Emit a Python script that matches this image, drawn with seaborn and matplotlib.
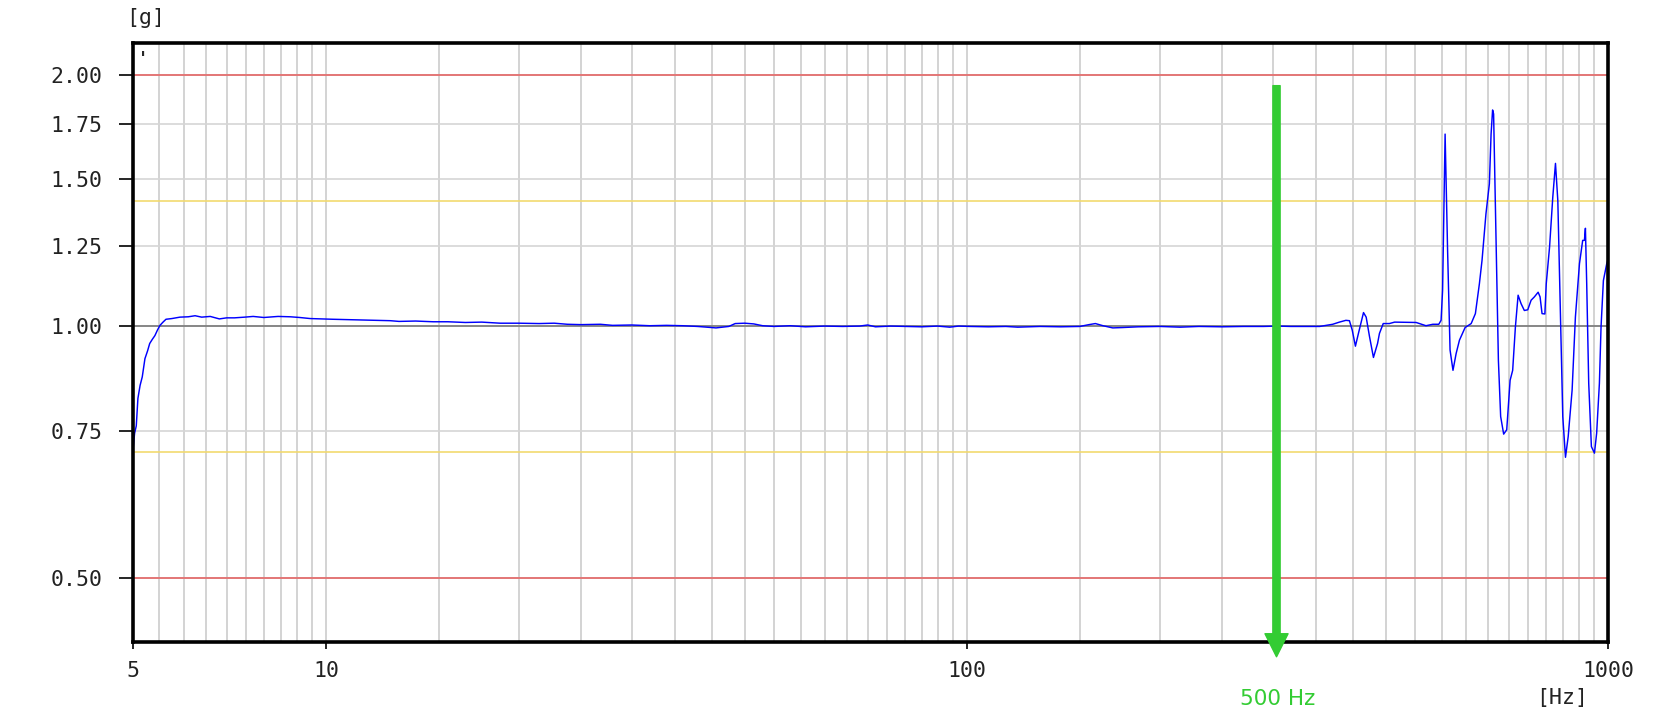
import numpy as np
import pandas as pd
import matplotlib
matplotlib.use("Agg")
import matplotlib.pyplot as plt
import matplotlib.ticker as mticker
import seaborn as sns

sns.set_style("white")
plt.rcParams["font.family"] = "DejaVu Sans Mono"

# frequency response (Hz, g)
freq_hz = [5.00, 5.03, 5.06, 5.09, 5.13, 5.17, 5.22, 5.27, 5.31, 5.36, 5.41, 5.46,
           5.51, 5.57, 5.63, 5.75, 5.92, 6.10, 6.25, 6.40, 6.60, 6.82, 7.00, 7.20,
           7.47, 7.70, 8.00, 8.42, 8.80, 9.10, 9.45, 9.80, 10.25, 10.8, 11.3, 12.0,
           12.6, 13.0, 13.8, 14.7, 15.5, 16.5, 17.5, 18.7, 20.0, 21.5, 22.7, 23.8,
           25.0, 26.8, 28.0, 30.0, 32.0, 34.0, 36.0, 38.0, 40.6, 42.5, 43.5, 45.0,
           46.5, 48.0, 50.0, 53.0, 56.0, 60.0, 64.0, 68.0, 70.0, 72.0, 76.0, 80.0,
           85.0, 90.0, 94.0, 97.0, 101, 108, 115, 120, 130, 140, 150, 155,
           158.6, 163, 168.8, 175, 185, 200, 215, 230, 250, 270, 290, 305,
           320, 330, 355, 372, 381, 390, 395, 399, 403.6, 408, 415.5, 419.5,
           424.6, 430.6, 437, 440, 446, 456, 464.6, 502, 520, 533, 544.5, 549,
           552, 557, 562, 567, 573, 579.5, 586.5, 598.5, 611.7, 621, 630, 636,
           645, 653, 657, 660.6, 663, 668.7, 674.5, 680, 687.4, 695, 703.5, 710,
           717, 724, 731.7, 740.4, 749.5, 758.6, 767.6, 778, 783.4, 789, 797, 801,
           810.6, 820, 828, 835, 843, 850, 858.3, 866.7, 879, 889.4, 902.5, 913,
           918.7, 922, 926.3, 933, 942, 952.4, 960, 969.5, 975.3, 983.5, 995.4, 999]
accel_g = [0.710, 0.745, 0.760, 0.820, 0.850, 0.870, 0.915, 0.935, 0.954, 0.965, 0.975, 0.990,
           1.003, 1.012, 1.020, 1.022, 1.026, 1.027, 1.030, 1.026, 1.028, 1.021, 1.024, 1.024,
           1.026, 1.028, 1.025, 1.028, 1.027, 1.025, 1.022, 1.021, 1.020, 1.019, 1.018, 1.017,
           1.016, 1.014, 1.015, 1.013, 1.013, 1.011, 1.012, 1.009, 1.009, 1.008, 1.009, 1.006,
           1.005, 1.006, 1.003, 1.004, 1.002, 1.003, 1.002, 1.000, 0.996, 1.000, 1.008, 1.009,
           1.007, 1.002, 1.000, 1.002, 0.999, 1.001, 1.000, 1.001, 1.004, 0.999, 1.001, 1.000,
           0.999, 1.001, 0.998, 1.001, 1.000, 0.999, 1.000, 0.998, 1.000, 0.999, 1.000, 1.005,
           1.008, 1.002, 0.996, 0.997, 0.999, 1.000, 0.998, 1.000, 0.999, 1.000, 1.000, 1.001,
           1.000, 1.000, 1.000, 1.006, 1.012, 1.017, 1.016, 0.990, 0.947, 0.981, 1.039, 1.026,
           0.972, 0.918, 0.954, 0.981, 1.008, 1.008, 1.012, 1.011, 1.002, 1.006, 1.006, 1.017,
           1.105, 1.700, 1.233, 0.937, 0.886, 0.928, 0.963, 0.997, 1.008, 1.036, 1.125, 1.200,
           1.364, 1.482, 1.700, 1.817, 1.797, 1.291, 0.911, 0.780, 0.743, 0.752, 0.862, 0.886,
           0.999, 1.090, 1.065, 1.045, 1.047, 1.075, 1.085, 1.099, 1.085, 1.036, 1.035, 1.125,
           1.245, 1.428, 1.568, 1.415, 1.026, 0.780, 0.697, 0.738, 0.839, 1.026, 1.189, 1.268,
           1.268, 1.311, 1.125, 0.855, 0.718, 0.705, 0.745, 0.855, 1.000, 1.135, 1.189, 1.200]

x_tick_vals = [5, 10, 100, 1000]
x_tick_labels = ['5', '10', '100', '1000']
y_tick_vals = [0.50, 0.75, 1.00, 1.25, 1.50, 1.75, 2.00]
y_tick_labels = ['0.50', '0.75', '1.00', '1.25', '1.50', '1.75', '2.00']
red_limits = [2.0, 0.5]
yellow_limits = [1.414, 0.707]
marker_freq = 304
marker_label = '500 Hz'

df = pd.DataFrame({'Frequency': freq_hz, 'Accel': accel_g})

fig = plt.figure(figsize=(16.66, 7.13), dpi=100)
ax = fig.add_axes([0.0798, 0.0999, 0.8854, 0.8394])

ax.set_xscale('log')
ax.set_yscale('log')
ax.set_xlim(5, 1000)
ax.set_ylim(0.419, 2.184)

# vertical grid: 0.5 Hz steps to 10, 5 Hz to 100, 50 Hz to 1000
x_grid = np.concatenate([np.arange(5.5, 10, 0.5), np.arange(15, 100, 5), np.arange(150, 1000, 50)])
ax.xaxis.set_major_locator(mticker.FixedLocator(x_tick_vals))
ax.xaxis.set_major_formatter(mticker.FixedFormatter(x_tick_labels))
ax.xaxis.set_minor_locator(mticker.FixedLocator(x_grid))
ax.xaxis.set_minor_formatter(mticker.NullFormatter())

y_minor = [v for v in np.round(np.arange(0.45, 2.16, 0.05), 2) if v not in y_tick_vals]
ax.yaxis.set_major_locator(mticker.FixedLocator(y_tick_vals))
ax.yaxis.set_major_formatter(mticker.FixedFormatter(y_tick_labels))
ax.yaxis.set_minor_locator(mticker.FixedLocator(y_minor))
ax.yaxis.set_minor_formatter(mticker.NullFormatter())

ax.grid(which='both', axis='x', color='#c8c8c8', lw=1.1)
ax.grid(which='major', axis='y', color='#d6d6d6', lw=1.2)

for v in red_limits:
    ax.axhline(v, color='#e65c5c', lw=1.1, zorder=2)
for v in yellow_limits:
    ax.axhline(v, color='#f2da70', lw=1.2, zorder=2)
ax.axhline(1.0, color='#707070', lw=1.1, zorder=2)

sns.lineplot(data=df, x='Frequency', y='Accel', color='#0000ff', lw=1.05,
             estimator=None, ax=ax, zorder=3)
ax.set_xlabel('')
ax.set_ylabel('')

ax.tick_params(left=True, bottom=True, direction='out', colors='black', labelcolor='#222222')
ax.tick_params(axis='y', which='major', length=10, width=1.2, pad=12, labelsize=15.5)
ax.tick_params(axis='y', which='minor', length=5, width=1.0)
ax.tick_params(axis='x', which='both', length=5, width=1.2, pad=9, labelsize=15.5)

for s in ax.spines.values():
    s.set_color('black')
    s.set_linewidth(2.6)
    s.set_zorder(5)

# green marker arrow
ax.annotate('', xy=(marker_freq, 0.402), xytext=(marker_freq, 1.943),
            arrowprops=dict(arrowstyle='simple,head_length=0.83,head_width=0.83,tail_width=0.26',
                            mutation_scale=20, color='#33cc33', shrinkA=0, shrinkB=0),
            annotation_clip=False, zorder=6)

ax.text(5.18, 2.09, "'", fontsize=12, fontweight='bold', ha='center', va='center')
fig.text(146/1666, 1-18/713, '[g]', ha='center', va='center', fontsize=15.5, color='#222222')
fig.text(1562/1666, 1-698/713, '[Hz]', ha='center', va='center', fontsize=15.5, color='#222222')
fig.text(1278/1666, 1-699/713, marker_label, ha='center', va='center', fontsize=15.5,
         color='#33cc33', family='DejaVu Sans')

fig.savefig('out.png', dpi=100)
